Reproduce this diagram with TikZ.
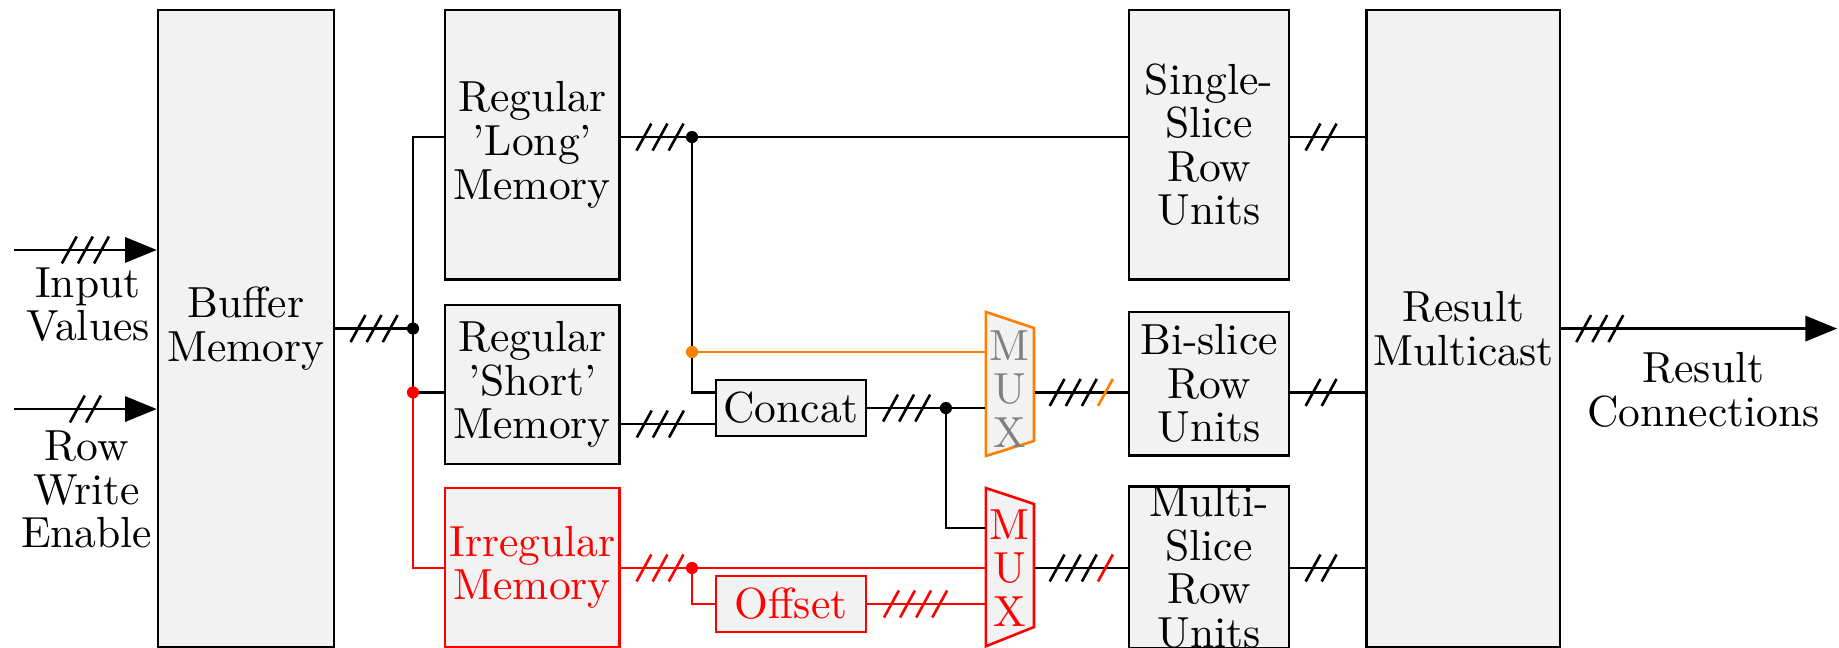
\documentclass[tikz,border=0pt]{standalone}
\usetikzlibrary{arrows.meta, calc, decorations.markings}

\begin{document}
\begin{tikzpicture}[
    wire/.style={semithick},
    blk/.style={draw, fill=gray!10, semithick, inner sep=0pt, align=center, font=\fontsize{10}{10}\selectfont},
    redblk/.style={blk, draw=red, text=red},
    lbl/.style={inner sep=0pt, align=center, font=\fontsize{10}{10}\selectfont},
    muxlbl/.style={lbl, minimum width=0.388cm},
    muxshape/.style={draw=#1, fill=gray!10, semithick},
    inarrow/.style={wire, -{Triangle[length=7.3pt, width=5.8pt]}},
    bus/.style 2 args={postaction={decorate, decoration={markings, mark=at position #1 with {
        \foreach \k in {1,...,#2}
            \draw[-] ({(\k-(#2+1)/2)*3.7pt-1.7pt}, -3.1pt) -- ++(3.4pt, 6.2pt);}}}},
    busend/.style={postaction={decorate, decoration={markings, mark=at position 0.5 with {
        \foreach \k in {1,2,3}
            \draw[-, black] ({(\k-2.5)*3.7pt-1.7pt}, -3.1pt) -- ++(3.4pt, 6.2pt);
        \draw[-, #1] ({1.5*3.7pt-1.7pt}, -3.1pt) -- ++(3.4pt, 6.2pt);}}}}
]
    \useasboundingbox (0,0) rectangle (14.855,-5.234);

    % Blocks
    \node[blk, minimum width=1.42cm, minimum height=5.145cm] (buf) at (1.987,-2.654) {Buffer\\Memory};
    \node[blk, minimum width=1.41cm, minimum height=2.18cm] (long) at (4.30,-1.17) {Regular\\'Long'\\Memory};
    \node[blk, minimum width=1.41cm, minimum height=1.284cm] (short) at (4.30,-3.106) {Regular\\'Short'\\Memory};
    \node[redblk, minimum width=1.41cm, minimum height=1.284cm] (irr) at (4.30,-4.584) {Irregular\\Memory};
    \node[blk, minimum width=1.21cm, minimum height=0.453cm] (concat) at (6.39,-3.296) {Concat};
    \node[redblk, minimum width=1.21cm, minimum height=0.453cm] (offset) at (6.39,-4.879) {Offset};
    \node[blk, minimum width=1.292cm, minimum height=2.18cm] (single) at (9.766,-1.17) {Single-\\Slice\\Row\\Units};
    \node[blk, minimum width=1.292cm, minimum height=1.163cm] (bi) at (9.766,-3.10) {Bi-slice\\Row\\Units};
    \node[blk, minimum width=1.292cm, minimum height=1.284cm] (multi) at (9.766,-4.584) {Multi-\\Slice\\Row\\Units};
    \node[blk, minimum width=1.56cm, minimum height=5.145cm] (res) at (11.82,-2.654) {Result\\Multicast};

    % Multiplexers
    \filldraw[muxshape=orange] (7.964,-2.52) -- (8.352,-2.649) -- (8.352,-3.562) -- (7.964,-3.683) -- cycle;
    \node[muxlbl, text=gray] (mux1) at (8.158,-3.142) {M\\U\\X};
    \filldraw[muxshape=red] (7.964,-3.942) -- (8.352,-4.071) -- (8.352,-5.065) -- (7.964,-5.22) -- cycle;
    \node[muxlbl, text=red] (mux2) at (8.158,-4.588) {M\\U\\X};

    % Junctions and rows
    \coordinate (in1) at (0.113,-2.019);
    \coordinate (in2) at (0.113,-3.304);
    \coordinate (j1) at (3.336,-2.654);
    \coordinate (j1r) at (3.336,-3.17);
    \coordinate (j2) at (5.59,-1.107);
    \coordinate (j2o) at (5.59,-2.843);
    \coordinate (j3) at (7.641,-3.296);
    \coordinate (j4) at (5.59,-4.588);
    \coordinate (rowS) at (0,-3.425);
    \coordinate (rowM) at (0,-4.265);
    \coordinate (out) at (14.84,-2.654);

    % Inputs
    \draw[inarrow, bus={0.5}{3}] (in1) -- (buf.west |- in1);
    \draw[inarrow, bus={0.5}{2}] (in2) -- (buf.west |- in2);
    \draw[wire, bus={0.5}{3}] (buf.east |- j1) -- (j1);
    \draw[wire] (long.west |- j2) -| (j1) |- (short.west |- j1r);
    \draw[wire, red] (j1r) |- (irr.west |- j4);

    % Regular paths
    \draw[wire, bus={0.55}{3}] (long.east |- j2) -- (j2);
    \draw[wire] (j2) -- (single.west |- j2);
    \draw[wire] (j2) |- (concat.west |- j1r);
    \draw[wire, orange] (j2o) -- (mux1.west |- j2o);
    \draw[wire, bus={0.42}{3}] (short.east |- rowS) -- (concat.west |- rowS);
    \draw[wire, bus={0.5}{3}] (concat.east) -- (j3);
    \draw[wire] (j3) -- (mux1.west |- j3);
    \draw[wire] (j3) |- (mux2.west |- rowM);

    % Irregular paths
    \draw[wire, red, bus={0.55}{3}] (irr.east |- j4) -- (j4);
    \draw[wire, red] (j4) -- (mux2.west |- j4);
    \draw[wire, red] (j4) |- (offset.west);
    \draw[wire, red, bus={0.41}{4}] (offset.east) -- (mux2.west |- offset.east);

    % Row units and result
    \draw[wire, busend=orange] (mux1.east |- j1r) -- (bi.west |- j1r);
    \draw[wire, busend=red] (mux2.east |- j4) -- (multi.west |- j4);
    \draw[wire, bus={0.41}{2}] (single.east |- j2) -- (res.west |- j2);
    \draw[wire, bus={0.41}{2}] (bi.east |- j1r) -- (res.west |- j1r);
    \draw[wire, bus={0.41}{2}] (multi.east |- j4) -- (res.west |- j4);
    \draw[inarrow, bus={0.14}{3}] (res.east |- out) -- (out);

    \foreach \j/\c in {j1/black, j1r/red, j2/black, j2o/orange, j3/black, j4/red}
        \fill[\c] (\j) circle (1.4pt);

    % Labels
    \node[lbl] (inlbl) at (0.71,-2.46) {Input\\Values};
    \node[lbl] (welbl) at (0.70,-3.954) {Row\\Write\\Enable};
    \node[lbl] (outlbl) at (13.76,-3.15) {Result\\Connections};
\end{tikzpicture}
\end{document}
